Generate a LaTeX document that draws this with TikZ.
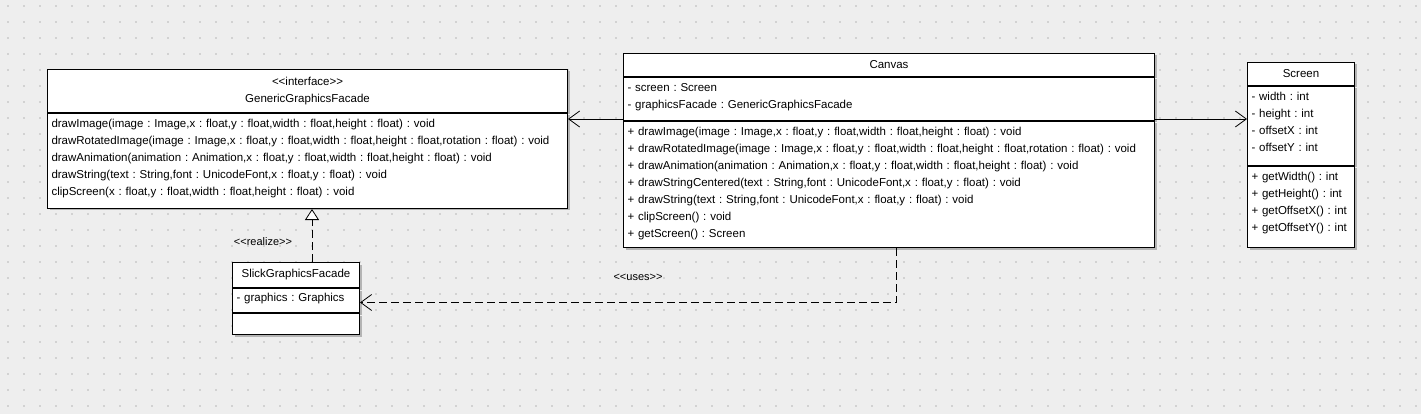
\documentclass[tikz,border=0pt]{standalone}
\usepackage{fontspec}
\setmainfont{Liberation Sans}
\usetikzlibrary{arrows.meta}
\usetikzlibrary{positioning}
\usetikzlibrary{shadows}

\definecolor{sheet}{HTML}{EEEEEE}
\definecolor{griddot}{HTML}{D2D2D2}
\definecolor{boxshadow}{HTML}{B4B4B4}

\frenchspacing

\begin{document}
\begin{tikzpicture}[x=1pt,y=-1pt,
    every node/.style={font=\fontsize{11.5}{17}\selectfont},
    part/.style={draw,fill=white,line width=1pt,anchor=north west,inner sep=0pt,inner xsep=4pt,
        general shadow={fill=boxshadow,shadow xshift=2pt,shadow yshift=-2pt}},
    title/.style={part,align=center},
    members/.style={part,align=left,text height=14.5pt},
    assoc/.style={line width=0.8pt,-{Straight Barb[length=11pt,width=16pt]}},
    depend/.style={assoc,dash pattern=on 8pt off 4pt},
    realize/.style={line width=0.8pt,dash pattern=on 8pt off 4pt,-{Triangle[open,length=11pt,width=14pt,fill=white]}},
    stereo/.style={font=\fontsize{11}{13}\selectfont}]

            \fill[sheet] (0,0) rectangle (1421,414);
            \useasboundingbox (0,0) rectangle (1421,414);
            \foreach \i in {0,...,88}
                \foreach \j in {0,...,25}
                    \fill[griddot] (7+16*\i,5+16*\j) rectangle ++(2,2);

            % interface
            \path   (47,69) node (ggfhead) [title,text width=512pt,minimum height=43pt]
                        {<{}<interface>{}>\\GenericGraphicsFacade}
                    (ggfhead.south west) node (ggfops) [members,text width=512pt,text depth=80.5pt]
                        {drawImage(image : Image,x : float,y : float,width : float,height : float) : void\\
                         drawRotatedImage(image : Image,x : float,y : float,width : float,height : float,rotation : float) : void\\
                         drawAnimation(animation : Animation,x : float,y : float,width : float,height : float) : void\\
                         drawString(text : String,font : UnicodeFont,x : float,y : float) : void\\
                         clipScreen(x : float,y : float,width : float,height : float) : void};

            % canvas
            \path   (623,53) node (canvashead) [title,text width=523pt,minimum height=23pt] {Canvas}
                    (canvashead.south west) node (canvasattr) [members,text width=523pt,text depth=28.5pt]
                        {- screen : Screen\\
                         - graphicsFacade : GenericGraphicsFacade}
                    (canvasattr.south west) node (canvasops) [members,text width=523pt,text depth=111.5pt]
                        {+ drawImage(image : Image,x : float,y : float,width : float,height : float) : void\\
                         + drawRotatedImage(image : Image,x : float,y : float,width : float,height : float,rotation : float) : void\\
                         + drawAnimation(animation : Animation,x : float,y : float,width : float,height : float) : void\\
                         + drawStringCentered(text : String,font : UnicodeFont,x : float,y : float) : void\\
                         + drawString(text : String,font : UnicodeFont,x : float,y : float) : void\\
                         + clipScreen() : void\\
                         + getScreen() : Screen};

            % screen
            \path   (1247,62) node (screenhead) [title,text width=99pt,minimum height=23pt] {Screen}
                    (screenhead.south west) node (screenattr) [members,text width=99pt,text depth=64.5pt]
                        {- width : int\\
                         - height : int\\
                         - offsetX : int\\
                         - offsetY : int}
                    (screenattr.south west) node (screenops) [members,text width=99pt,text depth=66.5pt]
                        {+ getWidth() : int\\
                         + getHeight() : int\\
                         + getOffsetX() : int\\
                         + getOffsetY() : int};

            % slick
            \path   (232,262) node (sgfhead) [title,text width=119pt,minimum height=25pt] {SlickGraphicsFacade}
                    (sgfhead.south west) node (sgfattr) [members,text width=119pt,text height=13pt,text depth=11pt]
                        {- graphics : Graphics}
                    (sgfattr.south west) node (sgfops) [members,text width=119pt,text height=0pt,text depth=21pt] {};

            \draw[assoc] ([yshift=2pt]canvasattr.south west) -- ([yshift=2pt]canvasattr.south west -| ggfops.east);
            \draw[assoc] ([yshift=2pt]canvasattr.south east) -- ([yshift=2pt]canvasattr.south east -| screenattr.west);
            \draw[realize] ([xshift=16pt]sgfhead.north) -- ([xshift=16pt]sgfhead.north |- ggfops.south);
            \draw[depend] ([xshift=7pt]canvasops.south) |- ([yshift=-2pt]sgfattr.east);

            \path   (263,242) node (realizelabel) [stereo] {<{}<realize>{}>}
                    (638,277) node (useslabel) [stereo] {<{}<uses>{}>};

\end{tikzpicture}
\end{document}
